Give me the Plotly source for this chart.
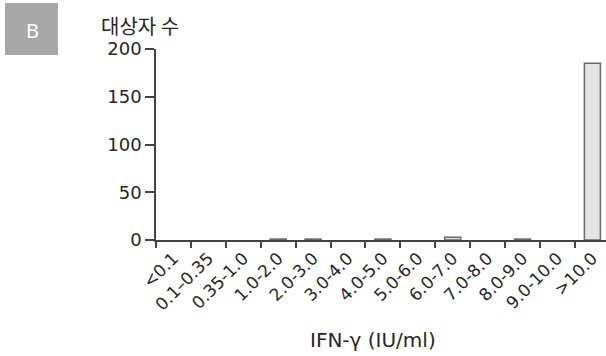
import plotly.graph_objects as go

categories = ["<0.1", "0.1–0.35", "0.35-1.0", "1.0-2.0", "2.0-3.0", "3.0-4.0", "4.0-5.0",
              "5.0-6.0", "6.0-7.0", "7.0-8.0", "8.0-9.0", "9.0-10.0", ">10.0"]
counts = [0, 0, 0, 1, 1, 0, 1, 0, 3, 0, 1, 0, 185]
y_ticks = [0, 50, 100, 150, 200]

FONT = "DejaVu Sans"
TXT = "#262626"
AX = "#444444"

L, T, B = 156, 49, 116
PW, PH = 606 - L, 356 - T - B

fig = go.Figure()
fig.add_trace(go.Bar(
    x=categories, y=counts, width=0.46,
    marker=dict(color="#e4e4e4",
                line=dict(color="#6a6a6a", width=[1.5 if c > 0 else 0 for c in counts])),
))

fig.update_layout(
    width=606, height=356,
    margin=dict(l=L, r=0, t=T, b=B, autoexpand=False),
    paper_bgcolor="white", plot_bgcolor="white",
    showlegend=False,
    font=dict(family=FONT, color=TXT),
    xaxis=dict(
        type="category",
        range=[-0.5, 12.39],
        tickson="boundaries",
        tickangle=-45,
        tickfont=dict(size=17, family=FONT, color=TXT),
        showline=True, linecolor=AX, linewidth=1.5,
        ticks="outside", ticklen=6, tickcolor=AX, tickwidth=1.5,
        showgrid=False, zeroline=False, automargin=False,
    ),
    yaxis=dict(
        range=[0, 200],
        tickvals=y_ticks,
        tickfont=dict(size=18, family=FONT, color=TXT),
        showline=True, linecolor=AX, linewidth=1.5,
        ticks="outside", ticklen=9, tickcolor=AX, tickwidth=1.5,
        showgrid=False, zeroline=False, automargin=False,
    ),
    shapes=[
        dict(type="line", xref="paper", yref="y", x0=-9 / PW, x1=0, y0=0, y1=0,
             line=dict(color=AX, width=1.5)),
        dict(type="rect", xref="paper", yref="paper",
             x0=(5 - L) / PW, x1=(58 - L) / PW,
             y0=(356 - B - 55) / PH, y1=(356 - B - 3) / PH,
             fillcolor="#a8a8a8", line=dict(width=0), layer="above"),
    ],
    annotations=[
        dict(text="B", xref="paper", yref="paper",
             x=(32 - L) / PW, y=(356 - B - 30) / PH,
             xanchor="center", yanchor="middle", showarrow=False,
             font=dict(size=20, color="white", family="Noto Sans")),
        dict(text="대상자 수", xref="paper", yref="paper",
             x=(99 - L) / PW, y=(356 - B - 25) / PH,
             xanchor="left", yanchor="middle", showarrow=False,
             font=dict(size=20, color=TXT, family="Noto Sans CJK KR")),
        dict(text="IFN-γ (IU/ml)", xref="paper", yref="paper",
             x=(373 - L) / PW, y=(356 - B - 340) / PH,
             xanchor="center", yanchor="middle", showarrow=False,
             font=dict(size=20, color=TXT, family=FONT)),
    ],
)

fig.write_html("out.html", config={"displayModeBar": False},
               post_script="document.body.style.margin='0';")
